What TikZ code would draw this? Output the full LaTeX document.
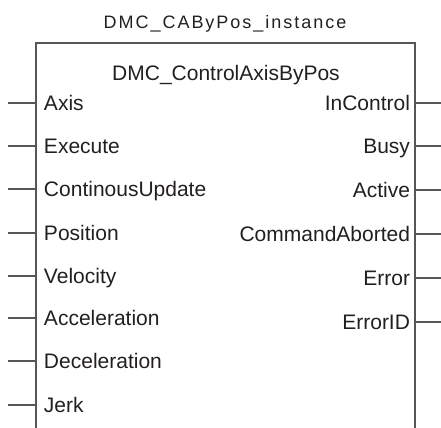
\documentclass[tikz,border=0pt]{standalone}
\usepackage{fontspec}
\setmainfont{Liberation Sans}
\usetikzlibrary{calc}
\definecolor{BlockInk}{HTML}{231F20}
\definecolor{BlockLine}{HTML}{5A5555}
\tikzset{
    block/diagram/.style={
        x=0.5pt, y=-0.5pt,
        font=\fontsize{10.5}{12}\selectfont,
        text=BlockInk,
        line cap=butt,
        every node/.style={inner sep=0pt, outer sep=0pt}
    },
    block/frame/.style={draw=BlockLine, line width=0.75pt},
    block/pin/.style={draw=BlockLine, line width=0.75pt},
    block/inlabel/.style={anchor=base west},
    block/outlabel/.style={anchor=base east},
    block/title/.style={anchor=base, font=\fontsize{9}{11}\selectfont\addfontfeatures{LetterSpace=11}}
}

\begin{document}
\begin{tikzpicture}[block/diagram]
    \useasboundingbox (0,0) rectangle (441,428);
    \coordinate (boxNW) at (36,43);
    \coordinate (boxNE) at (415,43);
    \coordinate (boxSW) at (36,428);
    \coordinate (boxSE) at (415,428);
    % box stays open below: the block continues past the cut
    \draw[block/frame] (boxSW) -- (boxNW) -- (boxNE) -- (boxSE);
    \node[block/title] (instName) at (225,28) {DMC\_CAByPos\_instance};
    \node[anchor=base] (fbName) at (226,81) {DMC\_ControlAxisByPos};
    \foreach \y/\txt [count=\n] in {103/Axis, 146/Execute, 189/ContinousUpdate,
        233/Position, 276/Velocity, 318/Acceleration, 361/Deceleration, 405/Jerk} {
        \coordinate (pinIn\n) at (8,\y);
        \draw[block/pin] (pinIn\n) -- (pinIn\n -| boxNW);
        \node[block/inlabel] (lblIn\n) at (44,\y+7.5) {\txt};
    }
    \foreach \y/\txt [count=\n] in {103/InControl, 146/Busy, 190/Active,
        234/CommandAborted, 278/Error, 322/ErrorID} {
        \coordinate (pinOut\n) at (441,\y);
        \draw[block/pin] (pinOut\n -| boxNE) -- (pinOut\n);
        \node[block/outlabel] (lblOut\n) at (410,\y+7.5) {\txt};
    }
\end{tikzpicture}
\end{document}
